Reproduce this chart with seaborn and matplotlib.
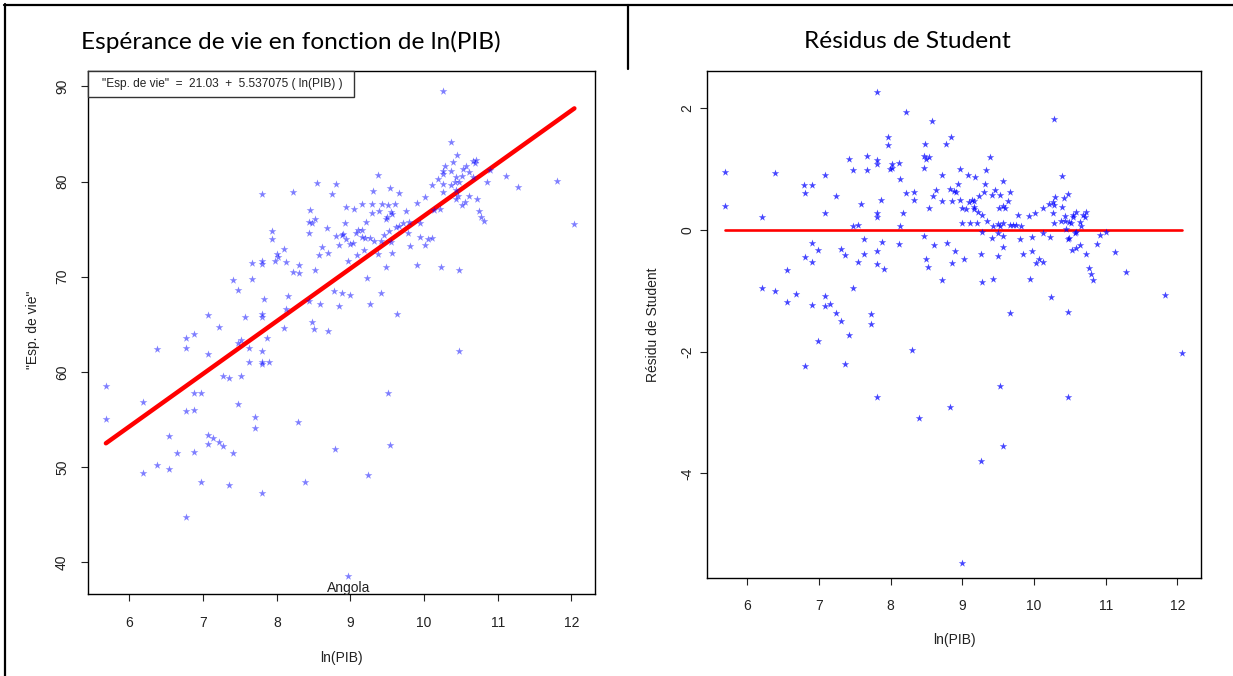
import matplotlib
matplotlib.use("Agg")
import matplotlib.pyplot as plt
import seaborn as sns
import numpy as np
import pandas as pd
from matplotlib.lines import Line2D
from matplotlib.patches import Rectangle

# ---------------- data ----------------
lnpib = [
    8.55, 8.81, 7.80, 8.22, 8.75, 8.94, 9.05, 8.45, 8.52, 8.44, 8.48, 8.93, 7.94, 8.44, 8.68,
    8.80, 8.88, 8.90, 8.94, 9.08, 9.10, 7.94, 8.84, 9.00, 9.03, 8.61, 8.10, 8.70, 8.57, 8.00,
    8.01, 7.98, 8.12, 7.66, 7.80, 7.80, 8.30, 8.96, 9.09, 8.22, 8.30, 8.52, 7.66, 7.41, 7.47,
    7.83, 8.15, 8.77, 8.88, 8.99, 8.44, 8.58, 8.85, 8.13, 7.07, 7.57, 7.80, 7.80,
    10.25, 10.36, 10.45, 10.39, 10.67, 10.71, 10.69, 10.29, 10.25, 10.36, 10.26, 10.53, 10.57,
    10.51, 10.61, 10.90, 11.11, 9.37, 10.19, 10.43, 10.66, 10.42, 10.47, 10.36, 10.25, 10.11,
    10.85, 11.27, 11.81, 9.31, 9.54, 9.66, 10.25, 10.43, 10.01, 10.46, 10.61, 10.43, 10.72,
    10.55, 10.51, 9.91, 9.15, 9.29, 9.43, 9.51, 9.60, 9.29, 9.39, 9.55, 9.57, 9.75, 9.49, 9.48,
    10.21, 10.13, 10.75, 10.77, 10.81, 9.21, 9.95, 9.79, 9.72, 9.66, 9.62, 9.53, 9.46, 9.78,
    9.16, 9.15, 9.20, 9.26, 9.32, 9.41, 9.55, 9.94, 10.05, 10.11, 10.01, 9.81, 9.18, 9.38, 9.56,
    9.91, 10.23, 10.47, 9.48, 9.23, 9.41, 9.26, 9.63, 12.04,
    7.22, 6.88, 6.77, 6.77, 6.37, 7.06, 7.47, 7.51, 7.62, 7.87, 8.10, 7.80, 7.62, 7.80, 7.80,
    7.90, 8.48, 8.50, 8.69, 7.27, 7.35, 7.51, 5.68, 6.88, 6.97, 6.19, 7.47, 6.77, 6.88, 5.68,
    7.71, 7.71, 8.29, 6.53, 7.06, 7.14, 7.21, 7.06, 7.27, 6.65, 6.88, 7.41, 8.79, 6.37, 6.19,
    6.53, 6.97, 7.35, 8.38, 7.80, 6.77, 8.97,
    10.47, 9.51, 9.54, 9.24,
]
esp_vie = [
    79.9, 79.7, 78.7, 78.9, 78.7, 77.3, 77.1, 77.0, 76.1, 75.7, 75.6, 75.6, 74.8, 74.6, 75.1,
    74.3, 74.4, 74.5, 74.0, 74.6, 74.9, 74.0, 73.3, 73.4, 73.5, 73.1, 72.9, 72.5, 72.3, 72.4,
    72.1, 71.7, 71.5, 71.4, 71.6, 71.3, 71.2, 71.6, 72.3, 70.5, 70.4, 70.7, 69.8, 69.6, 68.6,
    67.7, 68.0, 68.5, 68.3, 68.1, 67.4, 67.1, 66.9, 66.6, 66.0, 65.8, 66.1, 65.8,
    89.5, 84.2, 82.8, 82.1, 82.2, 82.3, 82.0, 81.6, 81.1, 81.1, 80.8, 81.3, 81.6,
    80.6, 81.0, 81.2, 80.6, 80.7, 80.3, 80.5, 80.5, 80.0, 80.0, 79.6, 79.7, 79.6,
    80.0, 79.4, 80.1, 79.0, 79.3, 78.8, 78.9, 79.1, 78.4, 78.5, 78.5, 78.2, 78.2,
    77.9, 77.5, 77.7, 77.6, 77.6, 77.6, 77.5, 77.6, 76.7, 76.9, 76.8, 76.6, 76.9, 76.3, 76.1,
    77.1, 77.0, 76.9, 76.3, 75.9, 75.8, 75.6, 75.8, 75.6, 75.3, 75.2, 74.8, 74.4, 74.6,
    74.9, 74.2, 74.1, 74.1, 73.8, 73.8, 73.6, 74.2, 74.0, 74.1, 73.3, 73.2, 72.8, 72.4, 72.5,
    71.2, 71.0, 70.7, 71.0, 69.9, 68.3, 67.1, 66.1, 75.5,
    64.7, 64.0, 63.5, 62.5, 62.4, 61.9, 63.0, 63.3, 62.5, 63.5, 64.6, 62.2, 61.0, 61.0, 60.8,
    61.0, 65.2, 64.5, 64.3, 59.6, 59.3, 59.6, 58.5, 57.8, 57.8, 56.8, 56.6, 55.9, 56.0, 55.0,
    55.2, 54.1, 54.7, 53.2, 53.4, 53.0, 52.6, 52.4, 52.2, 51.5, 51.6, 51.5, 51.9, 50.2, 49.4,
    49.8, 48.4, 48.1, 48.4, 47.3, 44.7, 38.5,
    62.2, 57.8, 52.3, 49.1,
]

lnpib_res = [
    5.69, 5.69, 6.38, 6.20, 7.81, 8.22, 8.57, 7.96, 7.96, 8.48, 8.77, 8.84, 7.42, 7.67, 7.81,
    7.81, 8.46, 8.49, 8.54, 8.02, 8.11, 7.99, 8.02, 7.48, 7.67, 8.47, 7.08, 8.71, 8.13, 6.79,
    6.90, 6.80, 7.23, 8.22, 8.33, 8.63, 8.83, 8.88, 8.91, 8.59, 8.33, 8.72, 8.86, 7.86, 7.58,
    8.54, 7.08, 7.81, 7.81, 8.17, 7.48, 7.55, 8.13, 8.47, 6.90, 7.88, 8.11, 8.60, 8.79, 7.63,
    6.99, 7.30, 7.36, 7.63, 7.81, 8.90, 6.80, 6.90, 7.55, 7.81, 7.91, 8.49, 8.52, 8.86, 8.72,
    6.55, 6.20, 6.38, 6.68, 6.55, 7.08, 7.48, 6.90, 7.08, 7.15, 7.23, 7.30, 7.72, 7.72,
    7.42, 6.99, 8.30, 6.80, 7.36, 7.81, 8.39, 8.83,
    12.07, 9.52, 10.48, 9.57, 9.26, 8.99,
    10.28, 9.38, 8.97, 9.33, 9.08, 9.18, 9.57, 10.39, 8.94, 9.31, 9.45, 9.67, 9.30, 10.48,
    10.29, 10.42, 8.97, 9.09, 9.14, 9.16, 9.23, 9.42, 9.52, 9.63, 10.21, 10.26, 10.28, 10.13,
    10.39, 9.00, 9.05, 9.16, 9.16, 9.51, 9.57, 9.60, 9.22, 9.28, 9.78, 9.93, 10.01, 10.26,
    10.43, 10.54, 10.55, 10.59, 10.68, 10.73, 10.71, 10.37, 10.43, 10.49, 10.51, 10.28, 10.64,
    10.65, 9.35, 8.99, 9.10, 9.21, 9.43, 9.49, 9.52, 9.56, 9.66, 9.70, 9.75, 9.82, 10.45,
    9.27, 9.49, 9.56, 9.41, 9.81, 9.97, 10.13, 10.22, 10.47, 10.49, 10.57, 10.58, 10.92, 11.01,
    9.57, 9.26, 9.49, 9.84, 9.97, 10.53, 10.58, 10.64, 10.73, 10.88, 11.13, 9.02, 10.07, 10.03,
    10.13, 10.77, 10.79, 10.82, 11.29, 9.27, 9.43, 9.94, 10.24, 11.83, 9.66, 10.48,
]
residus = [
    0.95, 0.39, 0.94, 0.21, 2.27, 1.94, 1.79, 1.53, 1.40, 1.41, 1.41, 1.53, 1.17, 1.22, 1.15,
    1.09, 1.22, 1.17, 1.20, 1.08, 1.10, 1.00, 1.02, 0.98, 0.99, 1.02, 0.90, 0.90, 0.84, 0.74,
    0.74, 0.61, 0.56, 0.61, 0.63, 0.66, 0.67, 0.64, 0.63, 0.56, 0.49, 0.48, 0.48, 0.49, 0.43,
    0.37, 0.28, 0.28, 0.21, 0.28, 0.07, 0.08, 0.07, -0.09, -0.21, -0.20, -0.23, -0.24, -0.21, -0.15,
    -0.33, -0.31, -0.41, -0.39, -0.35, -0.35, -0.44, -0.53, -0.53, -0.56, -0.64, -0.47, -0.61, -0.54, -0.82,
    -0.66, -0.95, -1.00, -1.05, -1.18, -1.09, -0.95, -1.23, -1.25, -1.22, -1.36, -1.49, -1.38, -1.55,
    -1.73, -1.82, -1.97, -2.24, -2.20, -2.75, -3.09, -2.91,
    -2.02, -2.56, -2.75, -3.55, -3.80, -5.47,
    1.82, 1.20, 1.00, 0.98, 0.91, 0.87, 0.81, 0.89, 0.76, 0.76, 0.66, 0.63, 0.63, 0.60,
    0.54, 0.53, 0.50, 0.46, 0.49, 0.48, 0.56, 0.58, 0.58, 0.48, 0.43, 0.46, 0.42, 0.36,
    0.38, 0.37, 0.35, 0.38, 0.34, 0.37, 0.39, 0.36, 0.29, 0.25, 0.25, 0.23, 0.28, 0.28,
    0.23, 0.21, 0.25, 0.29, 0.25, 0.29, 0.21, 0.15, 0.15, 0.13, 0.12, 0.12, 0.14,
    0.06, 0.15, 0.12, 0.12, 0.12, 0.07, 0.10, 0.07, 0.12, 0.08, 0.08, 0.08, 0.06, 0.01,
    -0.03, -0.05, -0.09, -0.13, -0.15, -0.12, -0.05, -0.12, -0.15, -0.13, -0.04, -0.03, -0.08, -0.03,
    -0.28, -0.39, -0.43, -0.39, -0.35, -0.33, -0.30, -0.24, -0.39, -0.23, -0.36, -0.48, -0.48, -0.54,
    -0.53, -0.62, -0.72, -0.82, -0.69, -0.85, -0.81, -0.81, -1.10, -1.07, -1.36, -1.35,
]

intercept = 21.03
pente = 5.537075
label_pays = "Angola"
x_ticks = [6, 7, 8, 9, 10, 11, 12]
y_ticks_gauche = [40, 50, 60, 70, 80, 90]
y_ticks_droite = [-4, -2, 0, 2]

titre_gauche = "Espérance de vie en fonction de ln(PIB)"
titre_droite = "Résidus de Student"
equation = '"Esp. de vie"  =  21.03  +  5.537075 ( ln(PIB) )'

# ---------------- style ----------------
sns.set_theme(style="white")
plt.rcParams['font.family'] = ['Liberation Sans', 'DejaVu Sans']

W, H = 1233, 676
fig = plt.figure(figsize=(W / 100, H / 100), dpi=100)
fig.patch.set_facecolor("white")


def px_box(x0, x1, ytop, ybot):
    return [x0 / W, 1 - ybot / H, (x1 - x0) / W, (ybot - ytop) / H]


ax1 = fig.add_axes(px_box(87.5, 595, 70.5, 594.3))
ax2 = fig.add_axes(px_box(707.3, 1201, 70.7, 578))

df1 = pd.DataFrame({"lnpib": lnpib, "esp": esp_vie})
df2 = pd.DataFrame({"lnpib": lnpib_res, "res": residus})

sns.scatterplot(data=df1, x="lnpib", y="esp", marker="*", s=34, color="#0000ff",
                alpha=0.5, linewidth=0, ax=ax1, zorder=3)
xl = np.array([min(lnpib), max(lnpib)])
sns.lineplot(x=xl, y=intercept + pente * xl, color="red", lw=3.2, ax=ax1, zorder=2)

sns.scatterplot(data=df2, x="lnpib", y="res", marker="*", s=32, color="#0000ff",
                alpha=0.72, linewidth=0, ax=ax2, zorder=3)
xr = np.array([min(lnpib_res), max(lnpib_res)])
sns.lineplot(x=xr, y=np.zeros(2), color="red", lw=1.9, ax=ax2, zorder=2)

i_min = int(np.argmin(esp_vie))
ax1.text(lnpib[i_min], 37.3, label_pays, ha="center", va="center", fontsize=10, color="#222222")

ax1.set_xlim(5.43, 12.32)
ax1.set_ylim(36.6, 91.68)
ax2.set_xlim(5.44, 12.33)
ax2.set_ylim(-5.72, 2.62)

for ax, yt in ((ax1, y_ticks_gauche), (ax2, y_ticks_droite)):
    ax.set_xticks(x_ticks)
    ax.set_xticklabels([str(t) for t in x_ticks])
    ax.set_yticks(yt)
    ax.set_yticklabels([str(t) for t in yt])
    for s in ax.spines.values():
        s.set_color("black")
        s.set_linewidth(1.0)
        s.set_visible(True)
    ax.tick_params(axis="both", direction="out", length=5.3, width=0.8, color="#222222",
                   labelsize=10, labelcolor="#222222", bottom=True, left=True)
    ax.tick_params(axis="x", pad=10)
    for lab in ax.get_yticklabels():
        lab.set_rotation(90)
        lab.set_va("center")
    ax.grid(False)
    ax.set_facecolor("white")

ax1.tick_params(axis="y", pad=8)
ax2.tick_params(axis="y", pad=4)

ax1.set_xlabel("ln(PIB)", fontsize=10, color="#222222")
ax1.set_ylabel('"Esp. de vie"', fontsize=10, color="#222222")
ax1.xaxis.set_label_coords(0.5, -64 / 523.8)
ax1.xaxis.label.set_va("center")
ax1.yaxis.set_label_coords(-55 / 507.5, 0.505)
ax1.yaxis.label.set_va("center")

ax2.set_xlabel("ln(PIB)", fontsize=10, color="#222222")
ax2.set_ylabel("Résidu de Student", fontsize=10, color="#222222")
ax2.xaxis.set_label_coords(0.5, -62 / 507.3)
ax2.xaxis.label.set_va("center")
ax2.yaxis.set_label_coords(-54 / 493.7, 0.5)
ax2.yaxis.label.set_va("center")

# equation legend box (top-left of left panel)
box_w = (353.6 - 87.5) / 507.5
box_h = 26.2 / 523.8
ax1.add_patch(Rectangle((0, 1 - box_h), box_w, box_h, transform=ax1.transAxes,
                        facecolor="white", edgecolor="#333333", lw=1.0, zorder=5, clip_on=False))
ax1.text(box_w / 2 + 0.004, 1 - box_h / 2, equation, transform=ax1.transAxes, ha="center", va="center",
         fontsize=8.6, color="#222222", zorder=6)

# titles
fig.text(291 / W, 1 - 42 / H, titre_gauche, ha="center", va="center", fontsize=17.6,
         family=["Lato", "DejaVu Sans"], color="black")
fig.text(907 / W, 1 - 42 / H, titre_droite, ha="center", va="center", fontsize=17.6,
         family=["Lato", "DejaVu Sans"], color="black")

# table-like frame lines
def fline(x0, y0, x1, y1, lw=1.6):
    fig.add_artist(Line2D([x0 / W, x1 / W], [1 - y0 / H, 1 - y1 / H], transform=fig.transFigure,
                          color="black", lw=lw))

fline(4, 5, W, 5)
fline(5, 4, 5, H)
fline(628, 5, 628, 69)

fig.savefig("out.png", dpi=100, facecolor="white")
